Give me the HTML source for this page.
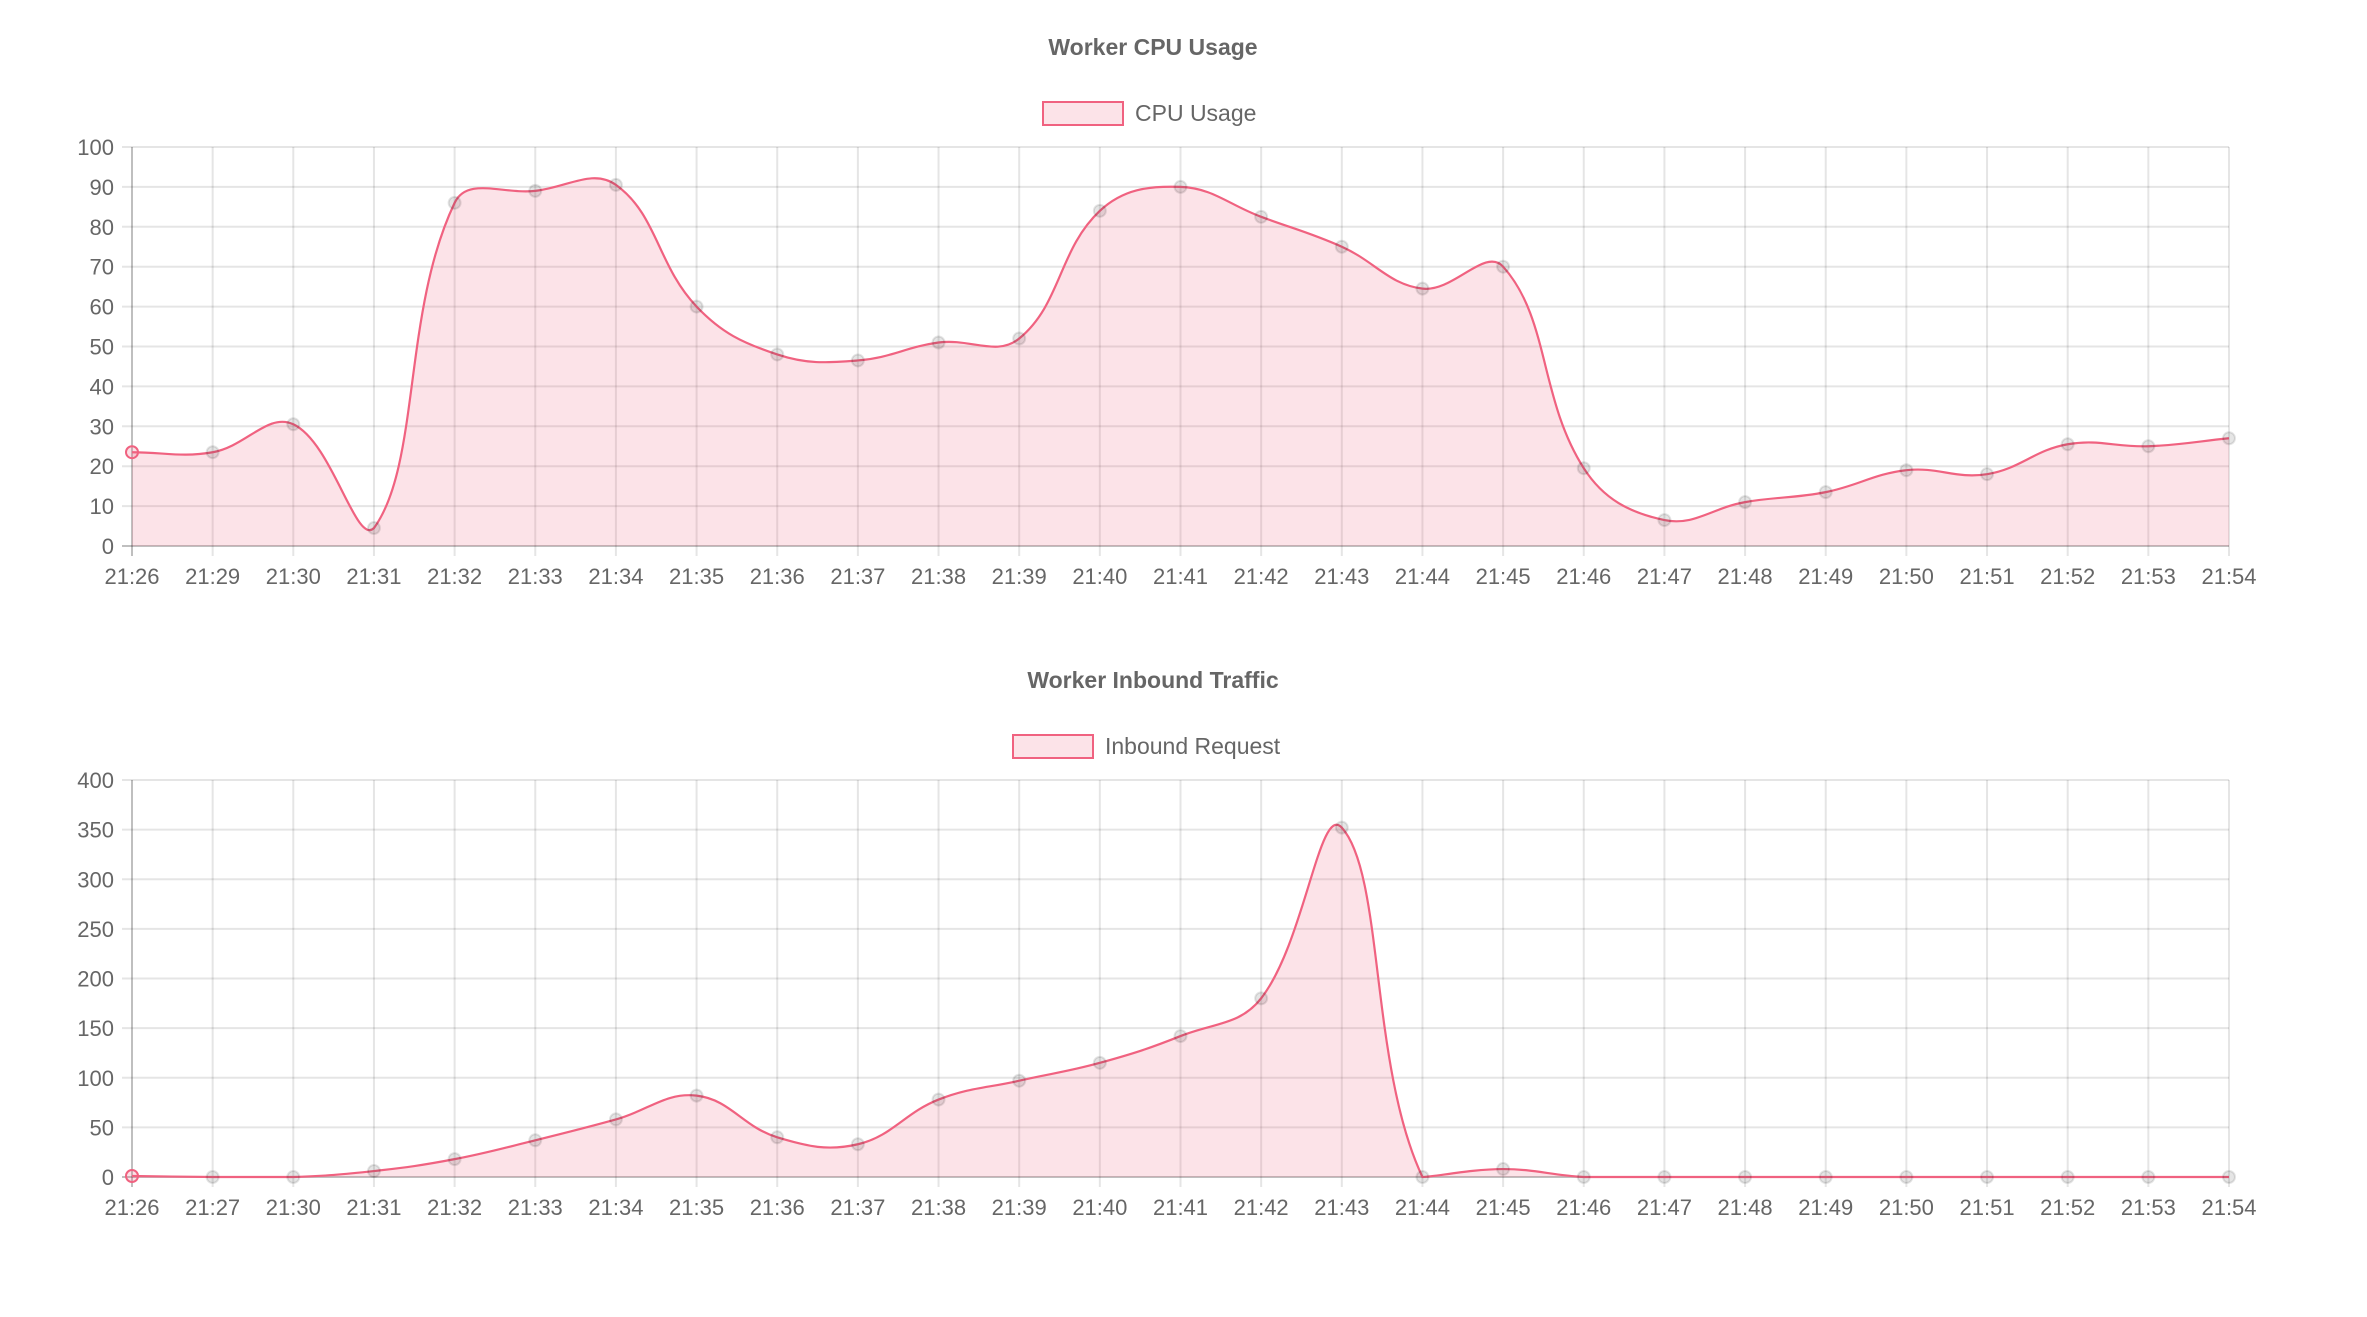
<!DOCTYPE html>
<html><head><meta charset="utf-8"><style>
body{margin:0;background:#fff;width:2367px;height:1317px;overflow:hidden;font-family:"Liberation Sans",sans-serif}
svg{display:block}
</style></head><body>
<svg id="svg" width="2367" height="1317"></svg>
<script>
const cpuLabels=["21:26","21:29","21:30","21:31","21:32","21:33","21:34","21:35","21:36","21:37","21:38","21:39","21:40","21:41","21:42","21:43","21:44","21:45","21:46","21:47","21:48","21:49","21:50","21:51","21:52","21:53","21:54"];
const cpuValues=[23.5,23.5,30.5,4.5,86,89,90.5,60,48,46.5,51,52,84,90,82.5,75,64.5,70,19.5,6.5,11,13.5,19,18,25.5,25,27];
const cpuTicks=[0,10,20,30,40,50,60,70,80,90,100];
const reqLabels=["21:26","21:27","21:30","21:31","21:32","21:33","21:34","21:35","21:36","21:37","21:38","21:39","21:40","21:41","21:42","21:43","21:44","21:45","21:46","21:47","21:48","21:49","21:50","21:51","21:52","21:53","21:54"];
const reqValues=[1,0,0,6,18,37,58,82,40,33,78,97,115,142,180,352,0,8,0,0,0,0,0,0,0,0,0];
const reqTicks=[0,50,100,150,200,250,300,350,400];
const NS="http://www.w3.org/2000/svg";
const svg=document.getElementById('svg');
function mk(tag,attrs,parent){const e=document.createElementNS(NS,tag);for(const k in attrs)e.setAttribute(k,attrs[k]);(parent||svg).appendChild(e);return e;}
function chart(opt){
  const g=mk('g',{});
  
  
  const L=132,R=2229,T=opt.top,B=opt.bottom,max=opt.ticks[opt.ticks.length-1];
  const xs=i=>L+(R-L)*i/(opt.labels.length-1);
  const ys=v=>B-(B-T)*v/max;
  const t=mk('text',{x:1153,y:opt.titleY,'text-anchor':'middle','font-size':23,'font-weight':'bold',fill:'#666'},g);t.textContent=opt.title;
  
  
  const lg=mk('g',{},g);
  
  
  mk('rect',{x:opt.legX,y:opt.legY-11,width:80,height:23,fill:'rgba(240,98,128,0.18)',stroke:'rgb(240,98,128)','stroke-width':2},lg);
  const lt=mk('text',{x:opt.legX+92,y:opt.legY+8,'font-size':23,fill:'#666'},lg);lt.textContent=opt.legend;
  opt.ticks.forEach(v=>{
    const y=ys(v);
    mk('line',{x1:L-10,x2:R,y1:y,y2:y,stroke:v===0?'rgba(0,0,0,0.25)':'rgba(0,0,0,0.1)','stroke-width':2},g);
    const tx=mk('text',{x:L-18,y:y+8,'text-anchor':'end','font-size':22,fill:'#666'},g);tx.textContent=v;
    
    
  });
  opt.labels.forEach((lb,i)=>{
    const x=xs(i);
    mk('line',{x1:x,x2:x,y1:T,y2:B+10,stroke:i===0?'rgba(0,0,0,0.25)':'rgba(0,0,0,0.1)','stroke-width':2},g);
    const tx=mk('text',{x:x,y:B+38,'text-anchor':'middle','font-size':22,fill:'#666'},g);tx.textContent=lb;
    
    
  });
  const pts=opt.values.map((v,i)=>({x:xs(i),y:ys(v)}));
  const tension=0.4,cps=[];
  for(let i=0;i<pts.length;i++){
    const p=pts[i],pr=pts[i-1]||p,nx=pts[i+1]||p;
    const d01=Math.hypot(p.x-pr.x,p.y-pr.y),d12=Math.hypot(nx.x-p.x,nx.y-p.y);
    let fa=d01/(d01+d12)||0,fb=d12/(d01+d12)||0;
    fa*=tension;fb*=tension;
    cps.push({px:p.x-fa*(nx.x-pr.x),py:p.y-fa*(nx.y-pr.y),nx:p.x+fb*(nx.x-pr.x),ny:p.y+fb*(nx.y-pr.y)});
  }
  let d=`M${pts[0].x},${pts[0].y}`;
  for(let i=1;i<pts.length;i++){
    let y1=Math.min(Math.max(cps[i-1].ny,T),B),y2=Math.min(Math.max(cps[i].py,T),B);
    d+=` C${cps[i-1].nx},${y1} ${cps[i].px},${y2} ${pts[i].x},${pts[i].y}`;
  }
  const area=mk('path',{d:d+` L${R},${B} L${L},${B} Z`,fill:'rgba(240,98,128,0.18)'},g);
  
  
  const line=mk('path',{d:d,fill:'none',stroke:'rgb(240,98,128)','stroke-width':2.2},g);
  
  
  pts.forEach((p,i)=>{
    const c=mk('circle',{cx:p.x,cy:p.y,r:6,fill:i===0?'rgba(240,98,128,0.2)':'rgba(0,0,0,0.1)',stroke:i===0?'rgb(240,98,128)':'rgba(0,0,0,0.1)','stroke-width':2},g);
    
    
  });
}
chart({name:'cpu-usage-chart',title:'Worker CPU Usage',legend:'CPU Usage',labels:cpuLabels,values:cpuValues,ticks:cpuTicks,top:147,bottom:546,titleY:55,legX:1043,legY:113});
chart({name:'inbound-traffic-chart',title:'Worker Inbound Traffic',legend:'Inbound Request',labels:reqLabels,values:reqValues,ticks:reqTicks,top:780,bottom:1177,titleY:688,legX:1013,legY:746});
</script>
</body></html>
